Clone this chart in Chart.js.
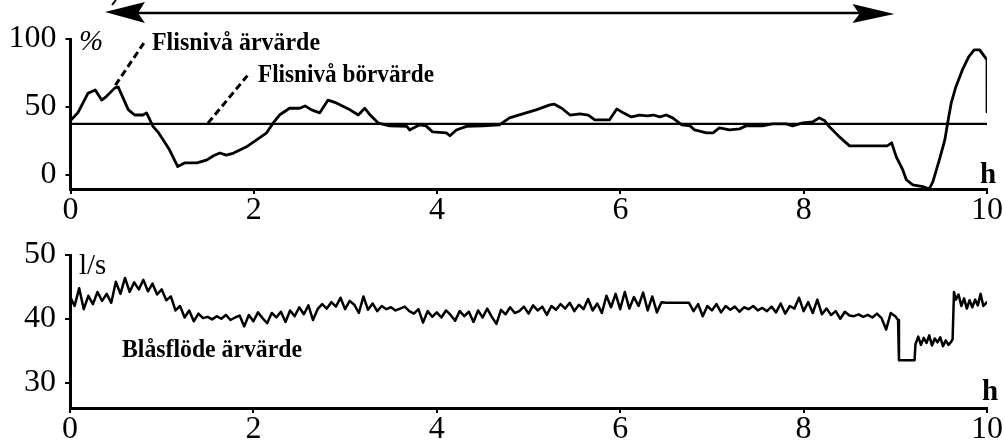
<!DOCTYPE html>
<html><head><meta charset="utf-8">
<script src="https://cdn.jsdelivr.net/npm/chart.js@4/dist/chart.umd.min.js"></script>
<style>
html,body{margin:0;padding:0;background:#fff;width:1004px;height:447px;overflow:hidden}
canvas{position:absolute;left:0}
#c1{top:0}
#c2{top:225px}
</style></head><body>
<canvas id="c1" width="1004" height="225"></canvas>
<canvas id="c2" width="1004" height="222"></canvas>
<script>
// ---- data ----
const hourTicks = [0, 2, 4, 6, 8, 10];
const levelTicks = [0, 50, 100];
const flowTicks = [30, 40, 50];

const levelTimes = [0.00,0.08,0.19,0.27,0.34,0.39,0.485,0.52,0.63,0.70,0.79,0.83,0.90,0.96,1.01,1.08,1.17,1.25,1.38,1.49,1.56,1.63,1.70,1.78,1.92,2.03,2.14,2.21,2.28,2.39,2.50,2.56,2.63,2.72,2.81,2.90,3.05,3.14,3.21,3.27,3.36,3.48,3.67,3.70,3.81,3.88,3.95,4.10,4.14,4.21,4.32,4.50,4.68,4.79,4.97,5.08,5.23,5.28,5.36,5.45,5.56,5.65,5.72,5.88,5.96,6.03,6.12,6.21,6.29,6.36,6.43,6.50,6.57,6.67,6.76,6.81,6.94,7.01,7.08,7.19,7.30,7.37,7.55,7.66,7.81,7.88,7.99,8.10,8.17,8.23,8.28,8.39,8.50,8.68,8.91,8.96,9.01,9.08,9.12,9.19,9.30,9.37,9.41,9.48,9.54,9.57,9.61,9.66,9.73,9.80,9.86,9.92,10.0,10.0];
const levelValues = [40,45.6,60,62.5,55,57.6,64,64.7,48,44,44,45.6,35.6,31,25.7,18.4,6,8.8,8.8,11,14,16,14.5,16,20.6,25.7,30.9,38,44,49,49,50.7,47.8,45.6,55,52.9,47.8,44,49,44,38,36,35.6,33,36.8,36,31.6,30.9,28.7,33,35.6,36,36.8,41.9,45.6,47.8,51.5,52,49,44,44.9,44,40.4,40.4,48.5,45.6,42.6,44,43.4,44,42.6,44,41.9,36.8,36,33,30.9,30.9,34.6,33,33.8,36,36,37.5,37.5,36,38.2,39,41.9,39.7,35.3,27.9,21.3,21.3,21.3,23.5,13.2,3.7,-3.7,-7.4,-8.8,-10.5,-5,11,25.7,38,53,64.7,77,86.8,92,92,84.6,46.3];

const setpointTimes = [0, 10];
const setpointValues = [37.5, 37.5];

// flow sampled every 0.05 h from 0 to 9.0 h
const flowStep = 0.05;
const flowValues = [
 43.5,42.0,44.8,41.5,43.6,42.3,44.2,42.8,43.9,42.5,
 45.8,43.9,46.4,44.2,45.7,44.6,46.1,44.3,45.5,43.8,
 44.6,42.9,43.5,41.3,42.0,40.2,41.3,39.6,40.8,40.1,
 40.3,39.9,40.4,40.0,40.6,39.8,40.2,40.5,38.8,40.6,
 39.6,41.0,40.1,39.3,40.9,40.2,41.1,39.5,41.3,40.4,
 41.8,40.7,42.1,39.8,41.5,42.3,41.6,42.6,41.9,43.3,
 41.5,42.8,42.2,40.9,43.5,41.4,42.4,41.2,42.0,41.5,
 41.8,41.3,41.6,41.9,41.2,40.8,41.5,39.4,41.2,40.3,
 41.0,40.2,41.3,40.6,39.7,41.2,40.4,41.1,39.5,41.3,
 40.2,41.6,40.3,39.2,41.4,40.7,41.8,40.9,41.2,41.9,
 40.8,42.1,41.3,41.9,40.6,42.0,41.4,42.3,41.6,42.5,
 41.2,42.2,41.5,43.1,41.3,42.4,40.9,43.6,41.8,43.9,
 41.5,44.2,41.6,43.4,42.0,44.1,41.3,43.5,41.0,42.6,
 42.5,42.5,42.5,42.5,42.5,42.5,41.2,42.3,40.4,42.0,
 41.3,42.3,41.0,42.0,41.4,41.9,41.1,41.8,41.5,42.0,
 41.3,41.7,41.2,41.9,41.0,42.4,40.8,42.0,41.6,43.3,
 41.2,42.6,40.9,43.0,40.7,41.6,40.6,41.2,40.0,41.1,
 40.5,40.4,40.7,40.3,40.6,40.2,40.8,40.1,38.3,40.9,
 40.4
];
const flowTailTimes = [9.03,9.04,9.21,9.22,9.25,9.28,9.31,9.34,9.37,9.40,9.43,9.46,9.49,9.52,9.55,9.58,9.61,9.625,9.64,9.66,9.69,9.72,9.75,9.78,9.81,9.84,9.87,9.90,9.93,9.96,10.0];
const flowTailValues = [39.8,33.5,33.5,36.0,37.2,35.9,37.0,36.2,37.4,35.8,36.9,36.3,37.1,35.7,36.6,35.9,36.4,36.8,44.2,43.0,43.8,42.0,43.2,41.6,42.9,41.8,43.0,42.1,43.9,42.0,42.6];

// ---- helpers ----
const pts = (xs, ys) => xs.map((t, i) => ({x: t, y: ys[i]}));
const flowPoints = flowValues.map((v, i) => ({x: +(i * flowStep).toFixed(2), y: v}))
  .concat(pts(flowTailTimes, flowTailValues));

Chart.defaults.font.family = '"Liberation Serif", "Times New Roman", serif';
Chart.defaults.color = '#000';

function xScale(pad) {
  return {
    type: 'linear', min: 0, max: 10,
    afterBuildTicks: s => { s.ticks = hourTicks.map(v => ({value: v})); },
    ticks: {font: {size: 32, lineHeight: 1}, color: '#000', padding: pad, maxRotation: 0},
    grid: {drawOnChartArea: false, drawTicks: true, tickLength: 5, color: '#000', lineWidth: 2},
    border: {display: true, color: '#000', width: 3}
  };
}
function yScale(min, max, tickVals, fitW) {
  return {
    min, max,
    afterBuildTicks: s => { s.ticks = tickVals.map(v => ({value: v})); },
    ticks: {font: {size: 32, lineHeight: 1}, color: '#000', padding: 9},
    grid: {drawOnChartArea: false, drawTicks: true, tickLength: 5, color: '#000', lineWidth: 2},
    border: {display: true, color: '#000', width: 3},
    afterFit: s => { s.width = fitW; }
  };
}

const annot1 = {
  id: 'annot1',
  afterDraw(chart) {
    const {ctx, scales: {x, y}} = chart;
    ctx.save();
    ctx.fillStyle = '#000'; ctx.strokeStyle = '#000';
    ctx.textAlign = 'left'; ctx.textBaseline = 'alphabetic';
    ctx.font = 'italic 29px "Liberation Serif"';
    ctx.fillText('%', 79, 50);
    ctx.font = 'bold 25px "Liberation Serif"';
    ctx.fillText('Flisnivå ärvärde', 152, 50, 168);
    ctx.fillText('Flisnivå börvärde', 258, 82, 176);
    ctx.font = 'bold 29px "Liberation Serif"';
    ctx.fillText('h', 980, 183);
    // dashed leaders
    ctx.lineWidth = 3; ctx.setLineDash([7, 4]);
    ctx.beginPath();
    ctx.moveTo(x.getPixelForValue(0.49), y.getPixelForValue(66));
    ctx.lineTo(x.getPixelForValue(0.80), y.getPixelForValue(97));
    ctx.moveTo(x.getPixelForValue(1.50), y.getPixelForValue(38));
    ctx.lineTo(x.getPixelForValue(1.93), y.getPixelForValue(73));
    ctx.stroke();
    ctx.setLineDash([]);
    // time-span arrow
    const xa = x.getPixelForValue(0.376), xb = x.getPixelForValue(8.99), ya = 13;
    ctx.lineWidth = 2.4;
    ctx.beginPath(); ctx.moveTo(xa + 20, ya); ctx.lineTo(xb - 20, ya); ctx.stroke();
    ctx.beginPath();
    ctx.moveTo(xa, ya - 1); ctx.lineTo(xa + 40, ya - 11); ctx.lineTo(xa + 33, ya); ctx.lineTo(xa + 40, ya + 10); ctx.closePath(); ctx.fill();
    ctx.beginPath();
    ctx.moveTo(xb, ya + 1); ctx.lineTo(xb - 42, ya - 9); ctx.lineTo(xb - 35, ya + 1); ctx.lineTo(xb - 42, ya + 10); ctx.closePath(); ctx.fill();
    ctx.lineWidth = 2;
    ctx.beginPath(); ctx.moveTo(112, 5); ctx.lineTo(116, 0); ctx.stroke();
    ctx.restore();
  }
};

const annot2 = {
  id: 'annot2',
  afterDraw(chart) {
    const {ctx} = chart;
    ctx.save();
    ctx.fillStyle = '#000';
    ctx.textAlign = 'left'; ctx.textBaseline = 'alphabetic';
    ctx.font = '29px "Liberation Serif"';
    ctx.fillText('l/s', 79, 49, 30);
    ctx.font = 'bold 25px "Liberation Serif"';
    ctx.fillText('Blåsflöde ärvärde', 122, 132, 180);
    ctx.font = 'bold 29px "Liberation Serif"';
    ctx.fillText('h', 982, 175);
    ctx.restore();
  }
};

const common = {
  responsive: false, animation: false,
  plugins: {legend: {display: false}, tooltip: {enabled: false}},
  elements: {point: {radius: 0}, line: {tension: 0, borderColor: '#000', borderJoinStyle: 'round', borderCapStyle: 'round'}}
};

new Chart(document.getElementById('c1'), {
  type: 'line',
  data: {datasets: [
    {label: 'Flisnivå börvärde', data: pts(setpointTimes, setpointValues), borderColor: '#000', borderWidth: 2.4},
    {label: 'Flisnivå ärvärde', data: pts(levelTimes, levelValues), borderColor: '#000', borderWidth: 2.8}
  ]},
  options: Object.assign({}, common, {
    layout: {padding: {left: 0, right: 16, top: 39, bottom: 0}},
    scales: {
      x: Object.assign(xScale(1), {afterFit: s => { s.height = 36; }}),
      y: yScale(-10.5, 100, levelTicks, 70.5)
    }
  }),
  plugins: [annot1]
});

new Chart(document.getElementById('c2'), {
  type: 'line',
  data: {datasets: [
    {label: 'Blåsflöde ärvärde', data: flowPoints, borderColor: '#000', borderWidth: 2.5}
  ]},
  options: Object.assign({}, common, {
    layout: {padding: {left: 0, right: 16, top: 30, bottom: 0}},
    scales: {
      x: Object.assign(xScale(1), {afterFit: s => { s.height = 39; }}),
      y: yScale(26, 50, flowTicks, 70)
    }
  }),
  plugins: [annot2]
});
</script>
</body></html>
